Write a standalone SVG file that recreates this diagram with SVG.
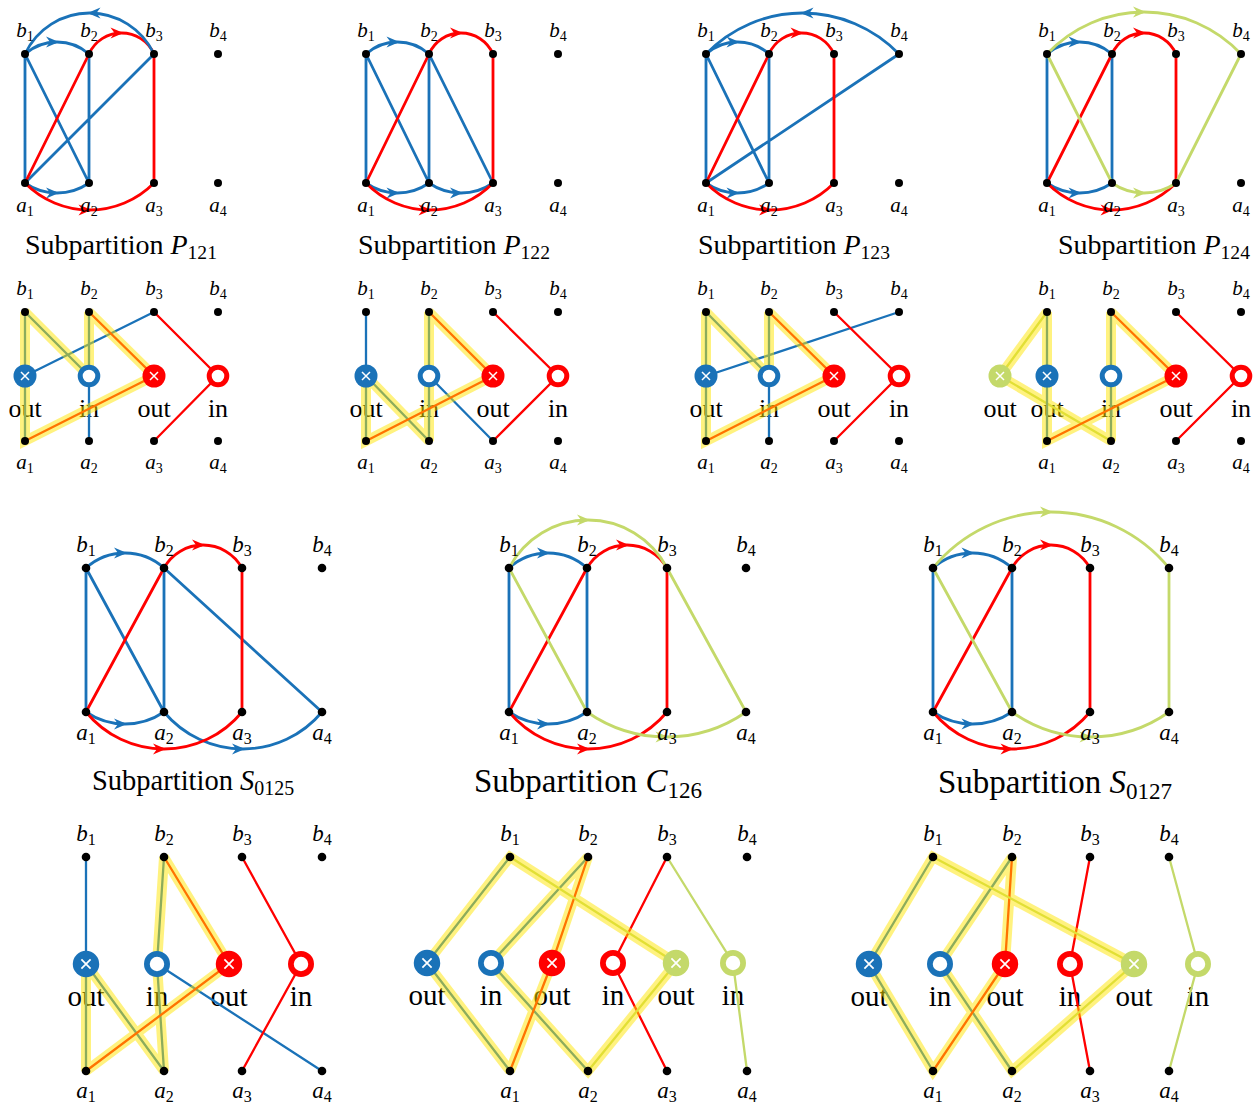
<svg xmlns="http://www.w3.org/2000/svg" width="1257" height="1113" viewBox="0 0 1257 1113">
<style>
text{font-family:"Liberation Serif","DejaVu Serif",serif;fill:#000}
.l{font-style:italic;font-size:21px;text-anchor:middle}
.l tspan{font-style:normal;font-size:14px}
.L{font-style:italic;font-size:23px;text-anchor:middle}
.L tspan{font-style:normal;font-size:16px}
.io{font-size:26px;text-anchor:middle}
.IO{font-size:29px;text-anchor:middle}
.cap{font-size:28px}
.cap .v{font-style:italic}
.cap .s{font-size:0.7em}
.e{fill:none;stroke-width:2.8}
.t{fill:none;stroke-width:2.3}
.b{stroke:#1a72b8}.r{stroke:#ff0000}.g{stroke:#c4d96a}
.ab{marker-mid:url(#mb)}.ar{marker-mid:url(#mr)}.ag{marker-mid:url(#mg)}
.hl{fill:none;stroke:#ffe600;stroke-opacity:0.5;stroke-width:10;stroke-linejoin:miter;stroke-miterlimit:2}
.d{fill:#000}
</style>
<defs>
<marker id="mb" viewBox="-13 -7 16 14" refX="0" refY="0" markerWidth="16" markerHeight="14" markerUnits="userSpaceOnUse" orient="auto"><path d="M2,0L-11,-5.5L-7,0L-11,5.5Z" fill="#1a72b8"/></marker>
<marker id="mr" viewBox="-13 -7 16 14" refX="0" refY="0" markerWidth="16" markerHeight="14" markerUnits="userSpaceOnUse" orient="auto"><path d="M2,0L-11,-5.5L-7,0L-11,5.5Z" fill="#ff0000"/></marker>
<marker id="mg" viewBox="-13 -7 16 14" refX="0" refY="0" markerWidth="16" markerHeight="14" markerUnits="userSpaceOnUse" orient="auto"><path d="M2,0L-11,-5.5L-7,0L-11,5.5Z" fill="#c4d96a"/></marker>
<g id="cbx"><circle r="11.5" fill="#1a72b8"/><path d="M-4,-4L4,4M-4,4L4,-4" stroke="#fff" stroke-width="1.5"/></g>
<g id="cbo"><circle r="8.8" fill="#fff" stroke="#1a72b8" stroke-width="5"/></g>
<g id="crx"><circle r="11.5" fill="#ff0000"/><path d="M-4,-4L4,4M-4,4L4,-4" stroke="#fff" stroke-width="1.5"/></g>
<g id="cro"><circle r="8.8" fill="#fff" stroke="#ff0000" stroke-width="5"/></g>
<g id="cgx"><circle r="11.5" fill="#c4d96a"/><path d="M-4,-4L4,4M-4,4L4,-4" stroke="#fff" stroke-width="1.5"/></g>
<g id="cgo"><circle r="8.8" fill="#fff" stroke="#c4d96a" stroke-width="5"/></g>
</defs>

<g id="captions">
<text class="cap" x="25" y="254">Subpartition <tspan class="v">P</tspan><tspan class="s" dy="5">121</tspan></text>
<text class="cap" x="358" y="254">Subpartition <tspan class="v">P</tspan><tspan class="s" dy="5">122</tspan></text>
<text class="cap" x="698" y="254">Subpartition <tspan class="v">P</tspan><tspan class="s" dy="5">123</tspan></text>
<text class="cap" x="1058" y="254">Subpartition <tspan class="v">P</tspan><tspan class="s" dy="5">124</tspan></text>
<text class="cap" x="92" y="790" style="font-size:28.5px">Subpartition <tspan class="v">S</tspan><tspan class="s" dy="5">0125</tspan></text>
<text class="cap" x="474" y="792" style="font-size:33px">Subpartition <tspan class="v">C</tspan><tspan class="s" dy="6">126</tspan></text>
<text class="cap" x="938" y="793" style="font-size:33px">Subpartition <tspan class="v">S</tspan><tspan class="s" dy="6">0127</tspan></text>
</g>

<g id="io-labels">
<text class="io" x="25" y="417">out</text><text class="io" x="89" y="417">in</text><text class="io" x="154" y="417">out</text><text class="io" x="218" y="417">in</text>
<text class="io" x="366" y="417">out</text><text class="io" x="429" y="417">in</text><text class="io" x="493" y="417">out</text><text class="io" x="558" y="417">in</text>
<text class="io" x="706" y="417">out</text><text class="io" x="769" y="417">in</text><text class="io" x="834" y="417">out</text><text class="io" x="899" y="417">in</text>
<text class="io" x="1000" y="417">out</text><text class="io" x="1047" y="417">out</text><text class="io" x="1111" y="417">in</text><text class="io" x="1176" y="417">out</text><text class="io" x="1241" y="417">in</text>
<text class="IO" x="86" y="1006">out</text><text class="IO" x="157" y="1006">in</text><text class="IO" x="229" y="1006">out</text><text class="IO" x="301" y="1006">in</text>
<text class="IO" x="427" y="1005">out</text><text class="IO" x="491" y="1005">in</text><text class="IO" x="552" y="1005">out</text><text class="IO" x="613" y="1005">in</text><text class="IO" x="676" y="1005">out</text><text class="IO" x="733" y="1005">in</text>
<text class="IO" x="869" y="1006">out</text><text class="IO" x="940" y="1006">in</text><text class="IO" x="1005" y="1006">out</text><text class="IO" x="1070" y="1006">in</text><text class="IO" x="1134" y="1006">out</text><text class="IO" x="1198" y="1006">in</text>
</g>

<g id="connectors">
<path class="e b" d="M25,54V183M25,54L89,183M89,54V183M25,183L154,54"/>
<path class="e r" d="M25,183L89,54M154,54V183"/>
<path class="e b ab" d="M25,54A48.7,48.7 0 0 1 57,42A48.7,48.7 0 0 1 89,54"/>
<path class="e b ab" d="M25,183A56.2,56.2 0 0 0 57,193A56.2,56.2 0 0 0 89,183"/>
<path class="e r ar" d="M89,54A35.6,35.6 0 0 1 121.5,33A35.6,35.6 0 0 1 154,54"/>
<path class="e r ar" d="M25,183A90.5,90.5 0 0 0 89.5,210A90.5,90.5 0 0 0 154,183"/>
<path class="e b ab" d="M154,54A71.2,71.2 0 0 0 89.5,13A71.2,71.2 0 0 0 25,54"/>

<path class="e b" d="M366,54V183M366,54L429,183M429,54V183M429,54L493,183"/>
<path class="e r" d="M366,183L429,54M493,54V183"/>
<path class="e b ab" d="M366,54A47.3,47.3 0 0 1 397.5,42A47.3,47.3 0 0 1 429,54"/>
<path class="e b ab" d="M366,183A54.6,54.6 0 0 0 397.5,193A54.6,54.6 0 0 0 429,183"/>
<path class="e b ab" d="M429,183A56.2,56.2 0 0 0 461,193A56.2,56.2 0 0 0 493,183"/>
<path class="e r ar" d="M429,54A34.9,34.9 0 0 1 461,33A34.9,34.9 0 0 1 493,54"/>
<path class="e r ar" d="M366,183A88.2,88.2 0 0 0 429.5,210A88.2,88.2 0 0 0 493,183"/>

<path class="e b" d="M706,54V183M706,54L769,183M769,54V183M706,183L899,54"/>
<path class="e r" d="M706,183L769,54M834,54V183"/>
<path class="e b ab" d="M706,54A47.3,47.3 0 0 1 737.5,42A47.3,47.3 0 0 1 769,54"/>
<path class="e b ab" d="M706,183A54.6,54.6 0 0 0 737.5,193A54.6,54.6 0 0 0 769,183"/>
<path class="e b ab" d="M899,54A134,134 0 0 0 802.5,13A134,134 0 0 0 706,54"/>
<path class="e r ar" d="M769,54A35.6,35.6 0 0 1 801.5,33A35.6,35.6 0 0 1 834,54"/>
<path class="e r ar" d="M706,183A89.4,89.4 0 0 0 770,210A89.4,89.4 0 0 0 834,183"/>

<path class="e b" d="M1047,54V183M1112,54V183"/>
<path class="e r" d="M1047,183L1112,54M1176,54V183"/>
<path class="e g" d="M1047,54L1112,183M1176,183L1241,54"/>
<path class="e b ab" d="M1047,54A50,50 0 0 1 1079.5,42A50,50 0 0 1 1112,54"/>
<path class="e b ab" d="M1047,183A57.8,57.8 0 0 0 1079.5,193A57.8,57.8 0 0 0 1112,183"/>
<path class="e r ar" d="M1112,54A34.9,34.9 0 0 1 1144,33A34.9,34.9 0 0 1 1176,54"/>
<path class="e r ar" d="M1047,183A90.5,90.5 0 0 0 1111.5,210A90.5,90.5 0 0 0 1176,183"/>
<path class="e g ag" d="M1112,183A56.2,56.2 0 0 0 1144,193A56.2,56.2 0 0 0 1176,183"/>
<path class="e g ag" d="M1047,54A133,133 0 0 1 1144,12A133,133 0 0 1 1241,54"/>

<path class="t b" d="M25,312V441M25,312L89,376M89,312V441M25,376L154,312"/>
<path class="t r" d="M89,312L154,376L25,441M154,312L218,376L154,441"/>
<path class="hl" d="M25,441L25,312L89,376L89,312L154,376Z"/>
<path class="t b" d="M366,312V441M366,376L429,441M429,312V441M429,376L493,441"/>
<path class="t r" d="M429,312L493,376L366,441M493,312L558,376L493,441"/>
<path class="hl" d="M366,376L366,441L493,376L429,312L429,441Z"/>
<path class="t b" d="M706,312V441M706,312L769,376M769,312V441M706,376L899,312"/>
<path class="t r" d="M769,312L834,376L706,441M834,312L899,376L834,441"/>
<path class="hl" d="M706,441L706,312L769,376L769,312L834,376Z"/>
<path class="t g" d="M1047,312L1000,376L1111,441"/>
<path class="t b" d="M1047,312V441M1111,312V441"/>
<path class="t r" d="M1111,312L1176,376L1047,441M1176,312L1241,376L1176,441"/>
<path class="hl" d="M1000,376L1047,312L1047,441L1176,376L1111,312L1111,441Z"/>

<path class="e b" d="M86,568V712M86,568L164,712M164,568V712M164,568L322,712"/>
<path class="e r" d="M86,712L164,568M242,568V712"/>
<path class="e b ab" d="M86,568A58.2,58.2 0 0 1 125,553A58.2,58.2 0 0 1 164,568"/>
<path class="e b ab" d="M86,712A69.4,69.4 0 0 0 125,724A69.4,69.4 0 0 0 164,712"/>
<path class="e b ab" d="M164,712A102.8,102.8 0 0 0 243,749A102.8,102.8 0 0 0 322,712"/>
<path class="e r ar" d="M164,568A44.6,44.6 0 0 1 203,545A44.6,44.6 0 0 1 242,568"/>
<path class="e r ar" d="M86,712A100.7,100.7 0 0 0 164,749A100.7,100.7 0 0 0 242,712"/>

<path class="e b" d="M509,568V712M587,568V712"/>
<path class="e r" d="M509,712L587,568M667,568V712"/>
<path class="e g" d="M509,568L587,712M667,568L746,712"/>
<path class="e b ab" d="M509,568A58.2,58.2 0 0 1 548,553A58.2,58.2 0 0 1 587,568"/>
<path class="e b ab" d="M509,712A69.4,69.4 0 0 0 548,724A69.4,69.4 0 0 0 587,712"/>
<path class="e r ar" d="M587,568A46.3,46.3 0 0 1 627,545A46.3,46.3 0 0 1 667,568"/>
<path class="e r ar" d="M509,712A102.8,102.8 0 0 0 588,749A102.8,102.8 0 0 0 667,712"/>
<path class="e g ag" d="M587,712A138.9,138.9 0 0 0 666.5,737A138.9,138.9 0 0 0 746,712"/>
<path class="e g ag" d="M509,568A89,89 0 0 1 588,520A89,89 0 0 1 667,568"/>

<path class="e b" d="M933,568V712M1012,568V712"/>
<path class="e r" d="M933,712L1012,568M1090,568V712"/>
<path class="e g" d="M933,568L1012,712M1169,568V712"/>
<path class="e b ab" d="M933,568A59.5,59.5 0 0 1 972.5,553A59.5,59.5 0 0 1 1012,568"/>
<path class="e b ab" d="M933,712A71,71 0 0 0 972.5,724A71,71 0 0 0 1012,712"/>
<path class="e r ar" d="M1012,568A44.6,44.6 0 0 1 1051,545A44.6,44.6 0 0 1 1090,568"/>
<path class="e r ar" d="M933,712A101.8,101.8 0 0 0 1011.5,749A101.8,101.8 0 0 0 1090,712"/>
<path class="e g ag" d="M1012,712A135.7,135.7 0 0 0 1090.5,737A135.7,135.7 0 0 0 1169,712"/>
<path class="e g ag" d="M933,568A152.3,152.3 0 0 1 1051,512A152.3,152.3 0 0 1 1169,568"/>

<path class="t b" d="M86,857V1071M86,964L164,1071M164,857L157,964L164,1071M157,964L322,1071"/>
<path class="t r" d="M164,857L229,964L86,1071M242,857L301,964L242,1071"/>
<path class="hl" d="M86,964L86,1071L229,964L164,857L157,964L164,1071Z"/>
<path class="t b" d="M510,857L427,963L510,1071M588,857L491,963L588,1071"/>
<path class="t r" d="M588,857L552,963L510,1071M667,857L613,963L667,1071"/>
<path class="t g" d="M510,857L676,963L588,1071M667,857L733,963L747,1071"/>
<path class="hl" d="M427,963L510,857L676,963L588,1071L491,963L588,857L552,963L510,1071Z"/>
<path class="t b" d="M933,857L869,964L933,1071M1012,857L940,964L1012,1071"/>
<path class="t r" d="M1012,857L1005,964L933,1071M1090,857L1070,964L1090,1071"/>
<path class="t g" d="M933,857L1134,964L1012,1071M1169,857L1198,964L1169,1071"/>
<path class="hl" d="M869,964L933,857L1134,964L1012,1071L940,964L1012,857L1005,964L933,1071Z"/>
</g>

<g id="ports">
<use href="#cbx" x="25" y="376"/><use href="#cbo" x="89" y="376"/><use href="#crx" x="154" y="376"/><use href="#cro" x="218" y="376"/>
<use href="#cbx" x="366" y="376"/><use href="#cbo" x="429" y="376"/><use href="#crx" x="493" y="376"/><use href="#cro" x="558" y="376"/>
<use href="#cbx" x="706" y="376"/><use href="#cbo" x="769" y="376"/><use href="#crx" x="834" y="376"/><use href="#cro" x="899" y="376"/>
<use href="#cgx" x="1000" y="376"/><use href="#cbx" x="1047" y="376"/><use href="#cbo" x="1111" y="376"/><use href="#crx" x="1176" y="376"/><use href="#cro" x="1241" y="376"/>
<use href="#cbx" transform="translate(86,964) scale(1.15)"/><use href="#cbo" transform="translate(157,964) scale(1.15)"/><use href="#crx" transform="translate(229,964) scale(1.15)"/><use href="#cro" transform="translate(301,964) scale(1.15)"/>
<use href="#cbx" transform="translate(427,963) scale(1.15)"/><use href="#cbo" transform="translate(491,963) scale(1.15)"/><use href="#crx" transform="translate(552,963) scale(1.15)"/><use href="#cro" transform="translate(613,963) scale(1.15)"/><use href="#cgx" transform="translate(676,963) scale(1.15)"/><use href="#cgo" transform="translate(733,963) scale(1.15)"/>
<use href="#cbx" transform="translate(869,964) scale(1.15)"/><use href="#cbo" transform="translate(940,964) scale(1.15)"/><use href="#crx" transform="translate(1005,964) scale(1.15)"/><use href="#cro" transform="translate(1070,964) scale(1.15)"/><use href="#cgx" transform="translate(1134,964) scale(1.15)"/><use href="#cgo" transform="translate(1198,964) scale(1.15)"/>
</g>

<g id="P121">
<g id="P121-b1"><circle class="d" cx="25" cy="54" r="4"/><text class="l" x="25" y="37">b<tspan dy="4">1</tspan></text></g>
<g id="P121-b2"><circle class="d" cx="89" cy="54" r="4"/><text class="l" x="89" y="37">b<tspan dy="4">2</tspan></text></g>
<g id="P121-b3"><circle class="d" cx="154" cy="54" r="4"/><text class="l" x="154" y="37">b<tspan dy="4">3</tspan></text></g>
<g id="P121-b4"><circle class="d" cx="218" cy="54" r="4"/><text class="l" x="218" y="37">b<tspan dy="4">4</tspan></text></g>
<g id="P121-a1"><circle class="d" cx="25" cy="183" r="4"/><text class="l" x="25" y="212">a<tspan dy="4">1</tspan></text></g>
<g id="P121-a2"><circle class="d" cx="89" cy="183" r="4"/><text class="l" x="89" y="212">a<tspan dy="4">2</tspan></text></g>
<g id="P121-a3"><circle class="d" cx="154" cy="183" r="4"/><text class="l" x="154" y="212">a<tspan dy="4">3</tspan></text></g>
<g id="P121-a4"><circle class="d" cx="218" cy="183" r="4"/><text class="l" x="218" y="212">a<tspan dy="4">4</tspan></text></g>
</g>
<g id="P122">
<g id="P122-b1"><circle class="d" cx="366" cy="54" r="4"/><text class="l" x="366" y="37">b<tspan dy="4">1</tspan></text></g>
<g id="P122-b2"><circle class="d" cx="429" cy="54" r="4"/><text class="l" x="429" y="37">b<tspan dy="4">2</tspan></text></g>
<g id="P122-b3"><circle class="d" cx="493" cy="54" r="4"/><text class="l" x="493" y="37">b<tspan dy="4">3</tspan></text></g>
<g id="P122-b4"><circle class="d" cx="558" cy="54" r="4"/><text class="l" x="558" y="37">b<tspan dy="4">4</tspan></text></g>
<g id="P122-a1"><circle class="d" cx="366" cy="183" r="4"/><text class="l" x="366" y="212">a<tspan dy="4">1</tspan></text></g>
<g id="P122-a2"><circle class="d" cx="429" cy="183" r="4"/><text class="l" x="429" y="212">a<tspan dy="4">2</tspan></text></g>
<g id="P122-a3"><circle class="d" cx="493" cy="183" r="4"/><text class="l" x="493" y="212">a<tspan dy="4">3</tspan></text></g>
<g id="P122-a4"><circle class="d" cx="558" cy="183" r="4"/><text class="l" x="558" y="212">a<tspan dy="4">4</tspan></text></g>
</g>
<g id="P123">
<g id="P123-b1"><circle class="d" cx="706" cy="54" r="4"/><text class="l" x="706" y="37">b<tspan dy="4">1</tspan></text></g>
<g id="P123-b2"><circle class="d" cx="769" cy="54" r="4"/><text class="l" x="769" y="37">b<tspan dy="4">2</tspan></text></g>
<g id="P123-b3"><circle class="d" cx="834" cy="54" r="4"/><text class="l" x="834" y="37">b<tspan dy="4">3</tspan></text></g>
<g id="P123-b4"><circle class="d" cx="899" cy="54" r="4"/><text class="l" x="899" y="37">b<tspan dy="4">4</tspan></text></g>
<g id="P123-a1"><circle class="d" cx="706" cy="183" r="4"/><text class="l" x="706" y="212">a<tspan dy="4">1</tspan></text></g>
<g id="P123-a2"><circle class="d" cx="769" cy="183" r="4"/><text class="l" x="769" y="212">a<tspan dy="4">2</tspan></text></g>
<g id="P123-a3"><circle class="d" cx="834" cy="183" r="4"/><text class="l" x="834" y="212">a<tspan dy="4">3</tspan></text></g>
<g id="P123-a4"><circle class="d" cx="899" cy="183" r="4"/><text class="l" x="899" y="212">a<tspan dy="4">4</tspan></text></g>
</g>
<g id="P124">
<g id="P124-b1"><circle class="d" cx="1047" cy="54" r="4"/><text class="l" x="1047" y="37">b<tspan dy="4">1</tspan></text></g>
<g id="P124-b2"><circle class="d" cx="1112" cy="54" r="4"/><text class="l" x="1112" y="37">b<tspan dy="4">2</tspan></text></g>
<g id="P124-b3"><circle class="d" cx="1176" cy="54" r="4"/><text class="l" x="1176" y="37">b<tspan dy="4">3</tspan></text></g>
<g id="P124-b4"><circle class="d" cx="1241" cy="54" r="4"/><text class="l" x="1241" y="37">b<tspan dy="4">4</tspan></text></g>
<g id="P124-a1"><circle class="d" cx="1047" cy="183" r="4"/><text class="l" x="1047" y="212">a<tspan dy="4">1</tspan></text></g>
<g id="P124-a2"><circle class="d" cx="1112" cy="183" r="4"/><text class="l" x="1112" y="212">a<tspan dy="4">2</tspan></text></g>
<g id="P124-a3"><circle class="d" cx="1176" cy="183" r="4"/><text class="l" x="1176" y="212">a<tspan dy="4">3</tspan></text></g>
<g id="P124-a4"><circle class="d" cx="1241" cy="183" r="4"/><text class="l" x="1241" y="212">a<tspan dy="4">4</tspan></text></g>
</g>

<g id="R121">
<g id="R121-b1"><circle class="d" cx="25" cy="312" r="4"/><text class="l" x="25" y="295">b<tspan dy="4">1</tspan></text></g>
<g id="R121-b2"><circle class="d" cx="89" cy="312" r="4"/><text class="l" x="89" y="295">b<tspan dy="4">2</tspan></text></g>
<g id="R121-b3"><circle class="d" cx="154" cy="312" r="4"/><text class="l" x="154" y="295">b<tspan dy="4">3</tspan></text></g>
<g id="R121-b4"><circle class="d" cx="218" cy="312" r="4"/><text class="l" x="218" y="295">b<tspan dy="4">4</tspan></text></g>
<g id="R121-a1"><circle class="d" cx="25" cy="441" r="4"/><text class="l" x="25" y="469">a<tspan dy="4">1</tspan></text></g>
<g id="R121-a2"><circle class="d" cx="89" cy="441" r="4"/><text class="l" x="89" y="469">a<tspan dy="4">2</tspan></text></g>
<g id="R121-a3"><circle class="d" cx="154" cy="441" r="4"/><text class="l" x="154" y="469">a<tspan dy="4">3</tspan></text></g>
<g id="R121-a4"><circle class="d" cx="218" cy="441" r="4"/><text class="l" x="218" y="469">a<tspan dy="4">4</tspan></text></g>
</g>
<g id="R122">
<g id="R122-b1"><circle class="d" cx="366" cy="312" r="4"/><text class="l" x="366" y="295">b<tspan dy="4">1</tspan></text></g>
<g id="R122-b2"><circle class="d" cx="429" cy="312" r="4"/><text class="l" x="429" y="295">b<tspan dy="4">2</tspan></text></g>
<g id="R122-b3"><circle class="d" cx="493" cy="312" r="4"/><text class="l" x="493" y="295">b<tspan dy="4">3</tspan></text></g>
<g id="R122-b4"><circle class="d" cx="558" cy="312" r="4"/><text class="l" x="558" y="295">b<tspan dy="4">4</tspan></text></g>
<g id="R122-a1"><circle class="d" cx="366" cy="441" r="4"/><text class="l" x="366" y="469">a<tspan dy="4">1</tspan></text></g>
<g id="R122-a2"><circle class="d" cx="429" cy="441" r="4"/><text class="l" x="429" y="469">a<tspan dy="4">2</tspan></text></g>
<g id="R122-a3"><circle class="d" cx="493" cy="441" r="4"/><text class="l" x="493" y="469">a<tspan dy="4">3</tspan></text></g>
<g id="R122-a4"><circle class="d" cx="558" cy="441" r="4"/><text class="l" x="558" y="469">a<tspan dy="4">4</tspan></text></g>
</g>
<g id="R123">
<g id="R123-b1"><circle class="d" cx="706" cy="312" r="4"/><text class="l" x="706" y="295">b<tspan dy="4">1</tspan></text></g>
<g id="R123-b2"><circle class="d" cx="769" cy="312" r="4"/><text class="l" x="769" y="295">b<tspan dy="4">2</tspan></text></g>
<g id="R123-b3"><circle class="d" cx="834" cy="312" r="4"/><text class="l" x="834" y="295">b<tspan dy="4">3</tspan></text></g>
<g id="R123-b4"><circle class="d" cx="899" cy="312" r="4"/><text class="l" x="899" y="295">b<tspan dy="4">4</tspan></text></g>
<g id="R123-a1"><circle class="d" cx="706" cy="441" r="4"/><text class="l" x="706" y="469">a<tspan dy="4">1</tspan></text></g>
<g id="R123-a2"><circle class="d" cx="769" cy="441" r="4"/><text class="l" x="769" y="469">a<tspan dy="4">2</tspan></text></g>
<g id="R123-a3"><circle class="d" cx="834" cy="441" r="4"/><text class="l" x="834" y="469">a<tspan dy="4">3</tspan></text></g>
<g id="R123-a4"><circle class="d" cx="899" cy="441" r="4"/><text class="l" x="899" y="469">a<tspan dy="4">4</tspan></text></g>
</g>
<g id="R124">
<g id="R124-b1"><circle class="d" cx="1047" cy="312" r="4"/><text class="l" x="1047" y="295">b<tspan dy="4">1</tspan></text></g>
<g id="R124-b2"><circle class="d" cx="1111" cy="312" r="4"/><text class="l" x="1111" y="295">b<tspan dy="4">2</tspan></text></g>
<g id="R124-b3"><circle class="d" cx="1176" cy="312" r="4"/><text class="l" x="1176" y="295">b<tspan dy="4">3</tspan></text></g>
<g id="R124-b4"><circle class="d" cx="1241" cy="312" r="4"/><text class="l" x="1241" y="295">b<tspan dy="4">4</tspan></text></g>
<g id="R124-a1"><circle class="d" cx="1047" cy="441" r="4"/><text class="l" x="1047" y="469">a<tspan dy="4">1</tspan></text></g>
<g id="R124-a2"><circle class="d" cx="1111" cy="441" r="4"/><text class="l" x="1111" y="469">a<tspan dy="4">2</tspan></text></g>
<g id="R124-a3"><circle class="d" cx="1176" cy="441" r="4"/><text class="l" x="1176" y="469">a<tspan dy="4">3</tspan></text></g>
<g id="R124-a4"><circle class="d" cx="1241" cy="441" r="4"/><text class="l" x="1241" y="469">a<tspan dy="4">4</tspan></text></g>
</g>

<g id="S0125">
<g id="S0125-b1"><circle class="d" cx="86" cy="568" r="4.3"/><text class="L" x="86" y="552">b<tspan dy="4">1</tspan></text></g>
<g id="S0125-b2"><circle class="d" cx="164" cy="568" r="4.3"/><text class="L" x="164" y="552">b<tspan dy="4">2</tspan></text></g>
<g id="S0125-b3"><circle class="d" cx="242" cy="568" r="4.3"/><text class="L" x="242" y="552">b<tspan dy="4">3</tspan></text></g>
<g id="S0125-b4"><circle class="d" cx="322" cy="568" r="4.3"/><text class="L" x="322" y="552">b<tspan dy="4">4</tspan></text></g>
<g id="S0125-a1"><circle class="d" cx="86" cy="712" r="4.3"/><text class="L" x="86" y="740">a<tspan dy="4">1</tspan></text></g>
<g id="S0125-a2"><circle class="d" cx="164" cy="712" r="4.3"/><text class="L" x="164" y="740">a<tspan dy="4">2</tspan></text></g>
<g id="S0125-a3"><circle class="d" cx="242" cy="712" r="4.3"/><text class="L" x="242" y="740">a<tspan dy="4">3</tspan></text></g>
<g id="S0125-a4"><circle class="d" cx="322" cy="712" r="4.3"/><text class="L" x="322" y="740">a<tspan dy="4">4</tspan></text></g>
</g>
<g id="C126">
<g id="C126-b1"><circle class="d" cx="509" cy="568" r="4.3"/><text class="L" x="509" y="552">b<tspan dy="4">1</tspan></text></g>
<g id="C126-b2"><circle class="d" cx="587" cy="568" r="4.3"/><text class="L" x="587" y="552">b<tspan dy="4">2</tspan></text></g>
<g id="C126-b3"><circle class="d" cx="667" cy="568" r="4.3"/><text class="L" x="667" y="552">b<tspan dy="4">3</tspan></text></g>
<g id="C126-b4"><circle class="d" cx="746" cy="568" r="4.3"/><text class="L" x="746" y="552">b<tspan dy="4">4</tspan></text></g>
<g id="C126-a1"><circle class="d" cx="509" cy="712" r="4.3"/><text class="L" x="509" y="740">a<tspan dy="4">1</tspan></text></g>
<g id="C126-a2"><circle class="d" cx="587" cy="712" r="4.3"/><text class="L" x="587" y="740">a<tspan dy="4">2</tspan></text></g>
<g id="C126-a3"><circle class="d" cx="667" cy="712" r="4.3"/><text class="L" x="667" y="740">a<tspan dy="4">3</tspan></text></g>
<g id="C126-a4"><circle class="d" cx="746" cy="712" r="4.3"/><text class="L" x="746" y="740">a<tspan dy="4">4</tspan></text></g>
</g>
<g id="S0127">
<g id="S0127-b1"><circle class="d" cx="933" cy="568" r="4.3"/><text class="L" x="933" y="552">b<tspan dy="4">1</tspan></text></g>
<g id="S0127-b2"><circle class="d" cx="1012" cy="568" r="4.3"/><text class="L" x="1012" y="552">b<tspan dy="4">2</tspan></text></g>
<g id="S0127-b3"><circle class="d" cx="1090" cy="568" r="4.3"/><text class="L" x="1090" y="552">b<tspan dy="4">3</tspan></text></g>
<g id="S0127-b4"><circle class="d" cx="1169" cy="568" r="4.3"/><text class="L" x="1169" y="552">b<tspan dy="4">4</tspan></text></g>
<g id="S0127-a1"><circle class="d" cx="933" cy="712" r="4.3"/><text class="L" x="933" y="740">a<tspan dy="4">1</tspan></text></g>
<g id="S0127-a2"><circle class="d" cx="1012" cy="712" r="4.3"/><text class="L" x="1012" y="740">a<tspan dy="4">2</tspan></text></g>
<g id="S0127-a3"><circle class="d" cx="1090" cy="712" r="4.3"/><text class="L" x="1090" y="740">a<tspan dy="4">3</tspan></text></g>
<g id="S0127-a4"><circle class="d" cx="1169" cy="712" r="4.3"/><text class="L" x="1169" y="740">a<tspan dy="4">4</tspan></text></g>
</g>

<g id="T0125">
<g id="T0125-b1"><circle class="d" cx="86" cy="857" r="4.3"/><text class="L" x="86" y="841">b<tspan dy="4">1</tspan></text></g>
<g id="T0125-b2"><circle class="d" cx="164" cy="857" r="4.3"/><text class="L" x="164" y="841">b<tspan dy="4">2</tspan></text></g>
<g id="T0125-b3"><circle class="d" cx="242" cy="857" r="4.3"/><text class="L" x="242" y="841">b<tspan dy="4">3</tspan></text></g>
<g id="T0125-b4"><circle class="d" cx="322" cy="857" r="4.3"/><text class="L" x="322" y="841">b<tspan dy="4">4</tspan></text></g>
<g id="T0125-a1"><circle class="d" cx="86" cy="1071" r="4.3"/><text class="L" x="86" y="1098">a<tspan dy="4">1</tspan></text></g>
<g id="T0125-a2"><circle class="d" cx="164" cy="1071" r="4.3"/><text class="L" x="164" y="1098">a<tspan dy="4">2</tspan></text></g>
<g id="T0125-a3"><circle class="d" cx="242" cy="1071" r="4.3"/><text class="L" x="242" y="1098">a<tspan dy="4">3</tspan></text></g>
<g id="T0125-a4"><circle class="d" cx="322" cy="1071" r="4.3"/><text class="L" x="322" y="1098">a<tspan dy="4">4</tspan></text></g>
</g>
<g id="T126">
<g id="T126-b1"><circle class="d" cx="510" cy="857" r="4.3"/><text class="L" x="510" y="841">b<tspan dy="4">1</tspan></text></g>
<g id="T126-b2"><circle class="d" cx="588" cy="857" r="4.3"/><text class="L" x="588" y="841">b<tspan dy="4">2</tspan></text></g>
<g id="T126-b3"><circle class="d" cx="667" cy="857" r="4.3"/><text class="L" x="667" y="841">b<tspan dy="4">3</tspan></text></g>
<g id="T126-b4"><circle class="d" cx="747" cy="857" r="4.3"/><text class="L" x="747" y="841">b<tspan dy="4">4</tspan></text></g>
<g id="T126-a1"><circle class="d" cx="510" cy="1071" r="4.3"/><text class="L" x="510" y="1098">a<tspan dy="4">1</tspan></text></g>
<g id="T126-a2"><circle class="d" cx="588" cy="1071" r="4.3"/><text class="L" x="588" y="1098">a<tspan dy="4">2</tspan></text></g>
<g id="T126-a3"><circle class="d" cx="667" cy="1071" r="4.3"/><text class="L" x="667" y="1098">a<tspan dy="4">3</tspan></text></g>
<g id="T126-a4"><circle class="d" cx="747" cy="1071" r="4.3"/><text class="L" x="747" y="1098">a<tspan dy="4">4</tspan></text></g>
</g>
<g id="T0127">
<g id="T0127-b1"><circle class="d" cx="933" cy="857" r="4.3"/><text class="L" x="933" y="841">b<tspan dy="4">1</tspan></text></g>
<g id="T0127-b2"><circle class="d" cx="1012" cy="857" r="4.3"/><text class="L" x="1012" y="841">b<tspan dy="4">2</tspan></text></g>
<g id="T0127-b3"><circle class="d" cx="1090" cy="857" r="4.3"/><text class="L" x="1090" y="841">b<tspan dy="4">3</tspan></text></g>
<g id="T0127-b4"><circle class="d" cx="1169" cy="857" r="4.3"/><text class="L" x="1169" y="841">b<tspan dy="4">4</tspan></text></g>
<g id="T0127-a1"><circle class="d" cx="933" cy="1071" r="4.3"/><text class="L" x="933" y="1098">a<tspan dy="4">1</tspan></text></g>
<g id="T0127-a2"><circle class="d" cx="1012" cy="1071" r="4.3"/><text class="L" x="1012" y="1098">a<tspan dy="4">2</tspan></text></g>
<g id="T0127-a3"><circle class="d" cx="1090" cy="1071" r="4.3"/><text class="L" x="1090" y="1098">a<tspan dy="4">3</tspan></text></g>
<g id="T0127-a4"><circle class="d" cx="1169" cy="1071" r="4.3"/><text class="L" x="1169" y="1098">a<tspan dy="4">4</tspan></text></g>
</g>
</svg>
